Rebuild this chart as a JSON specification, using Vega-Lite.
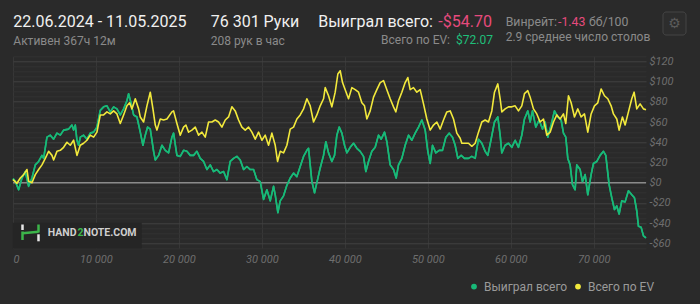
{
"$schema": "https://vega.github.io/schema/vega-lite/v6.json",
"width": 633, "height": 192.1,
"autosize": {"type": "none"},
"padding": {"left": 13, "top": 56.3, "right": 54, "bottom": 55.6},
"background": "#2a2a2a",
"config": {"view": {"stroke": null}, "font": "Roboto"},
"resolve": {"axis": {"y": "independent"}},
"datasets": {
"won": [{"h":0,"v":4},{"h":278,"v":1.3},{"h":679,"v":-7},{"h":1081,"v":4.6},{"h":1483,"v":11},{"h":1884,"v":-3.6},{"h":2286,"v":4.6},{"h":2688,"v":17.6},{"h":3089,"v":21},{"h":3491,"v":27},{"h":3692,"v":24},{"h":4094,"v":45},{"h":4495,"v":47},{"h":4897,"v":43},{"h":5299,"v":49},{"h":5701,"v":47},{"h":6102,"v":52},{"h":6705,"v":53},{"h":7106,"v":57},{"h":7307,"v":52},{"h":7508,"v":57},{"h":7709,"v":42},{"h":7910,"v":37},{"h":8111,"v":45},{"h":8512,"v":47},{"h":8914,"v":43},{"h":9316,"v":49},{"h":9718,"v":50},{"h":10119,"v":55},{"h":10521,"v":71.5},{"h":10923,"v":75},{"h":11324,"v":76},{"h":11726,"v":70},{"h":12128,"v":75},{"h":12529,"v":73},{"h":12931,"v":67},{"h":13333,"v":73},{"h":13735,"v":81},{"h":13935,"v":88},{"h":14217,"v":79},{"h":14538,"v":67},{"h":14940,"v":65},{"h":15341,"v":50},{"h":15663,"v":37},{"h":15944,"v":47},{"h":16225,"v":55},{"h":16546,"v":53},{"h":16948,"v":31},{"h":17149,"v":22.5},{"h":17551,"v":27},{"h":17952,"v":37},{"h":18354,"v":32},{"h":18754,"v":29.5},{"h":19155,"v":45},{"h":19356,"v":49},{"h":19758,"v":27},{"h":20160,"v":26},{"h":20561,"v":32},{"h":20963,"v":31},{"h":21365,"v":27},{"h":21766,"v":27},{"h":22168,"v":31},{"h":22570,"v":24},{"h":22972,"v":21},{"h":23373,"v":13},{"h":23775,"v":17.6},{"h":24177,"v":11},{"h":24578,"v":13},{"h":24980,"v":9.5},{"h":25382,"v":11},{"h":25783,"v":3},{"h":26185,"v":21},{"h":26587,"v":24},{"h":26989,"v":26},{"h":27390,"v":22.5},{"h":27792,"v":13},{"h":28194,"v":16},{"h":28595,"v":13},{"h":28997,"v":13},{"h":29399,"v":3},{"h":29800,"v":1},{"h":30202,"v":-16.6},{"h":30604,"v":-7},{"h":31006,"v":-18},{"h":31407,"v":-3.6},{"h":31608,"v":-12},{"h":31929,"v":-29.7},{"h":32211,"v":-18},{"h":32612,"v":-13},{"h":33014,"v":-2.6},{"h":33416,"v":4.6},{"h":33817,"v":9.5},{"h":34219,"v":6},{"h":34621,"v":16},{"h":35023,"v":26},{"h":35424,"v":32},{"h":35625,"v":34},{"h":36027,"v":1},{"h":36348,"v":-10},{"h":36629,"v":0},{"h":37031,"v":14.6},{"h":37433,"v":27},{"h":37714,"v":40.5},{"h":38034,"v":29.5},{"h":38435,"v":21},{"h":38757,"v":27},{"h":39038,"v":47},{"h":39319,"v":55},{"h":39641,"v":49},{"h":39962,"v":37},{"h":40243,"v":29.5},{"h":40645,"v":35},{"h":41046,"v":39},{"h":41448,"v":34},{"h":41850,"v":31},{"h":42252,"v":26},{"h":42533,"v":11},{"h":42854,"v":21},{"h":43256,"v":31},{"h":43658,"v":35},{"h":44059,"v":47},{"h":44381,"v":43},{"h":44782,"v":50},{"h":45063,"v":40.5},{"h":45465,"v":17.6},{"h":45867,"v":13},{"h":46188,"v":4.6},{"h":46469,"v":17.6},{"h":46871,"v":24},{"h":47273,"v":37},{"h":47675,"v":47},{"h":48076,"v":42},{"h":48478,"v":49},{"h":48880,"v":55},{"h":49281,"v":62},{"h":49683,"v":52},{"h":50004,"v":31},{"h":50286,"v":19},{"h":50567,"v":37},{"h":50968,"v":29.5},{"h":51370,"v":32},{"h":51772,"v":32},{"h":52174,"v":45},{"h":52575,"v":49},{"h":52977,"v":45},{"h":53298,"v":37},{"h":53620,"v":24},{"h":54021,"v":27},{"h":54423,"v":24},{"h":54905,"v":24},{"h":55307,"v":26},{"h":55709,"v":24},{"h":56110,"v":43},{"h":56512,"v":39},{"h":56912,"v":31},{"h":57233,"v":27},{"h":57635,"v":43},{"h":58037,"v":60},{"h":58438,"v":65},{"h":58720,"v":47},{"h":58921,"v":29.5},{"h":59322,"v":37},{"h":59724,"v":39},{"h":60126,"v":35},{"h":60527,"v":42},{"h":60929,"v":35},{"h":61331,"v":47},{"h":61652,"v":63},{"h":62054,"v":71},{"h":62335,"v":60},{"h":62616,"v":71},{"h":63018,"v":55},{"h":63420,"v":62},{"h":63821,"v":53},{"h":64143,"v":60},{"h":64464,"v":45},{"h":64866,"v":57},{"h":65267,"v":71},{"h":65669,"v":65},{"h":66071,"v":62},{"h":66352,"v":49},{"h":66633,"v":45},{"h":66874,"v":24},{"h":67155,"v":17.6},{"h":67437,"v":-2},{"h":67758,"v":-7},{"h":67959,"v":17.6},{"h":68360,"v":13},{"h":68641,"v":1},{"h":68963,"v":8},{"h":69284,"v":-12},{"h":69686,"v":8},{"h":69967,"v":19},{"h":70369,"v":21},{"h":70771,"v":27},{"h":71172,"v":31},{"h":71454,"v":27},{"h":71855,"v":-2},{"h":72177,"v":-15},{"h":72498,"v":-26.5},{"h":72779,"v":-23},{"h":73060,"v":-31},{"h":73382,"v":-18},{"h":73783,"v":-19},{"h":74185,"v":-8},{"h":74587,"v":-12},{"h":74908,"v":-15},{"h":75189,"v":-28},{"h":75390,"v":-43},{"h":75712,"v":-44},{"h":75993,"v":-52.6},{"h":76301,"v":-54.7}],
"ev": [{"h":0,"v":3},{"h":478,"v":-0.6},{"h":880,"v":4.6},{"h":1282,"v":8},{"h":1684,"v":13},{"h":1884,"v":1.3},{"h":2286,"v":0},{"h":2688,"v":8},{"h":3089,"v":13},{"h":3491,"v":17.6},{"h":3893,"v":24},{"h":4295,"v":31},{"h":4696,"v":27},{"h":4897,"v":22.5},{"h":5299,"v":31},{"h":5701,"v":32},{"h":6102,"v":35},{"h":6504,"v":40},{"h":6906,"v":37},{"h":7307,"v":42},{"h":7709,"v":27},{"h":8111,"v":37},{"h":8512,"v":39},{"h":8914,"v":42},{"h":9316,"v":47},{"h":9718,"v":45},{"h":10119,"v":50},{"h":10521,"v":67},{"h":10923,"v":67},{"h":11324,"v":70},{"h":11726,"v":68},{"h":12128,"v":71},{"h":12529,"v":68},{"h":12931,"v":58.5},{"h":13333,"v":67},{"h":13735,"v":76},{"h":14056,"v":79},{"h":14337,"v":73},{"h":14739,"v":83},{"h":15140,"v":73},{"h":15341,"v":65},{"h":15743,"v":60},{"h":16145,"v":76},{"h":16546,"v":89.5},{"h":16868,"v":73},{"h":17149,"v":57},{"h":17350,"v":52},{"h":17752,"v":63},{"h":18153,"v":62},{"h":18555,"v":63},{"h":19155,"v":70},{"h":19356,"v":71},{"h":19758,"v":58.5},{"h":20160,"v":47},{"h":20561,"v":55},{"h":20843,"v":57},{"h":21164,"v":50},{"h":21566,"v":52},{"h":21967,"v":55},{"h":22369,"v":47},{"h":22771,"v":50},{"h":23172,"v":45},{"h":23574,"v":60},{"h":23976,"v":60},{"h":24378,"v":62},{"h":24779,"v":60},{"h":25181,"v":55},{"h":25583,"v":62},{"h":25984,"v":65},{"h":26386,"v":75},{"h":26788,"v":71},{"h":27189,"v":62},{"h":27591,"v":55},{"h":27993,"v":52},{"h":28395,"v":55},{"h":28796,"v":50},{"h":29198,"v":43},{"h":29600,"v":50},{"h":30001,"v":42},{"h":30403,"v":47},{"h":30805,"v":37},{"h":31206,"v":49},{"h":31608,"v":37},{"h":31889,"v":21},{"h":32211,"v":31},{"h":32612,"v":29.5},{"h":33014,"v":37},{"h":33416,"v":53},{"h":33817,"v":55},{"h":34219,"v":63},{"h":34621,"v":67},{"h":35023,"v":73},{"h":35424,"v":83},{"h":35826,"v":76},{"h":36228,"v":60},{"h":36629,"v":67},{"h":37031,"v":76},{"h":37433,"v":83},{"h":37634,"v":94},{"h":38034,"v":86},{"h":38435,"v":75},{"h":38837,"v":89.5},{"h":39158,"v":107.5},{"h":39440,"v":110.7},{"h":39721,"v":99},{"h":40042,"v":92},{"h":40444,"v":83},{"h":40846,"v":94},{"h":41247,"v":92},{"h":41649,"v":89.5},{"h":42051,"v":79},{"h":42372,"v":76},{"h":42653,"v":63},{"h":43055,"v":71},{"h":43457,"v":84.6},{"h":43858,"v":92},{"h":44260,"v":99},{"h":44662,"v":101},{"h":45063,"v":92},{"h":45465,"v":83},{"h":45867,"v":75},{"h":46148,"v":70},{"h":46469,"v":81},{"h":46871,"v":89.5},{"h":47273,"v":99},{"h":47594,"v":104},{"h":47875,"v":92},{"h":48277,"v":94},{"h":48679,"v":89.5},{"h":49080,"v":92},{"h":49482,"v":78},{"h":49884,"v":63},{"h":50286,"v":52},{"h":50687,"v":57},{"h":51089,"v":60},{"h":51491,"v":53},{"h":51892,"v":62},{"h":52294,"v":70},{"h":52696,"v":71},{"h":53097,"v":63},{"h":53499,"v":49},{"h":53901,"v":44},{"h":54102,"v":39},{"h":54503,"v":39},{"h":54905,"v":39},{"h":55307,"v":36},{"h":55709,"v":39},{"h":56110,"v":50},{"h":56512,"v":60},{"h":56914,"v":62},{"h":57314,"v":60},{"h":57715,"v":71},{"h":58037,"v":89.5},{"h":58438,"v":97.7},{"h":58720,"v":83},{"h":58921,"v":70},{"h":59322,"v":73},{"h":59724,"v":75},{"h":60126,"v":75},{"h":60527,"v":76},{"h":60929,"v":71},{"h":61331,"v":76},{"h":61652,"v":88},{"h":62054,"v":91},{"h":62335,"v":84.6},{"h":62737,"v":73},{"h":63138,"v":68},{"h":63540,"v":60},{"h":63942,"v":63},{"h":64343,"v":47},{"h":64745,"v":50},{"h":65147,"v":60},{"h":65549,"v":67},{"h":65950,"v":63},{"h":66352,"v":68},{"h":66633,"v":58.5},{"h":66954,"v":86},{"h":67276,"v":79},{"h":67678,"v":65},{"h":68079,"v":73},{"h":68481,"v":65},{"h":68883,"v":68},{"h":69284,"v":50},{"h":69686,"v":68},{"h":70088,"v":76},{"h":70489,"v":79},{"h":70891,"v":92.7},{"h":71293,"v":86},{"h":71695,"v":83},{"h":72096,"v":76},{"h":72377,"v":68},{"h":72779,"v":63},{"h":73060,"v":52},{"h":73462,"v":65},{"h":73783,"v":57},{"h":74185,"v":70},{"h":74587,"v":83},{"h":74868,"v":89.5},{"h":75189,"v":73},{"h":75591,"v":78},{"h":75993,"v":73},{"h":76301,"v":72.07}]
},
"data": {"values": [{}]},
"layer": [
{"data": {"name": "ev"}, "mark": {"type": "line", "strokeWidth": 1.6, "opacity": 0},
 "encoding": {"x": {"field": "h", "type": "quantitative"},
  "y": {"field": "v", "type": "quantitative",
   "axis": {"orient": "left", "values": [-65,-55,-50,-45,-35,-30,-25,-15,-10,-5,5,10,15,25,30,35,45,50,55,65,70,75,85,90,95,105,110,115,125],
    "labels": false, "ticks": false, "domain": false, "title": null, "grid": true, "gridColor": "#323232"}}}},
{"data": {"name": "won"}, "mark": {"type": "line", "strokeWidth": 1.6, "strokeJoin": "round"},
 "encoding": {
  "x": {"field": "h", "type": "quantitative", "scale": {"domain": [0, 76301], "nice": false, "zero": false},
    "axis": {"values": [0,10000,20000,30000,40000,50000,60000,70000], "labelExpr": "replace(format(datum.value, ','), ',', ' ')",
      "grid": true, "gridColor": "#373737", "ticks": false, "domain": false, "title": null,
      "labelFont": "Roboto", "labelFontStyle": "italic", "labelFontSize": 11, "labelColor": "#6e6e6e", "labelPadding": 5, "labelBaseline": "top"}},
  "y": {"field": "v", "type": "quantitative",
   "scale": {"domain": [-65, 125], "nice": false, "zero": false},
   "axis": {"orient": "right", "values": [-60,-40,-20,0,20,40,60,80,100,120],
     "labelExpr": "datum.value < 0 ? '-$' + abs(datum.value) : '$' + datum.value",
     "grid": true, "gridColor": "#424242",
     "ticks": false, "domain": false, "title": null,
     "labelFont": "Roboto", "labelFontStyle": "italic", "labelFontSize": 11, "labelColor": "#6e6e6e",
     "labelPadding": 3, "labelAlign": "left", "labelBaseline": "middle"}},
  "color": {"datum": "Выиграл всего", "scale": {"domain": ["Выиграл всего", "Всего по EV"], "range": ["#18b978", "#f2e93c"]},
    "legend": {"orient": "none", "legendX": 455, "legendY": 224, "direction": "horizontal", "title": null,
      "symbolType": "circle", "symbolSize": 8, "symbolStrokeWidth": 3, "labelFont": "Roboto", "labelFontSize": 12,
      "labelColor": "#9a9a9a", "labelOffset": 4, "columnPadding": 2, "padding": 0}}}},
{"mark": {"type": "rule", "color": "#8a8a8a", "strokeWidth": 1.5},
 "encoding": {"y": {"datum": 0, "type": "quantitative", "axis": null}}},
{"data": {"name": "won"}, "mark": {"type": "line", "strokeWidth": 1.6, "strokeJoin": "round", "color": "#18b978"},
 "encoding": {"x": {"field": "h", "type": "quantitative"}, "y": {"field": "v", "type": "quantitative", "axis": null}}},
{"data": {"name": "ev"}, "mark": {"type": "line", "strokeWidth": 1.6, "strokeJoin": "round"},
 "encoding": {"x": {"field": "h", "type": "quantitative"}, "y": {"field": "v", "type": "quantitative", "axis": null}, "color": {"datum": "Всего по EV"}}},
{"mark": {"type": "rect", "fill": "#252525"}, "encoding": {"x": {"value": -0.3}, "x2": {"value": 128.7}, "y": {"value": 166.4}, "y2": {"value": 192.1}}},
{"mark": {"type": "rule", "stroke": "#e6e6e6", "strokeWidth": 2.5}, "encoding": {"x": {"value": 9.5}, "x2": {"value": 9.5}, "y": {"value": 168.2}, "y2": {"value": 173.7}}},
{"mark": {"type": "rule", "stroke": "#3cb54a", "strokeWidth": 2.5}, "encoding": {"x": {"value": 9.5}, "x2": {"value": 9.5}, "y": {"value": 175.2}, "y2": {"value": 183.7}}},
{"mark": {"type": "rule", "stroke": "#3cb54a", "strokeWidth": 2.5}, "encoding": {"x": {"value": 9.5}, "x2": {"value": 25.5}, "y": {"value": 177}, "y2": {"value": 175.5}}},
{"mark": {"type": "rule", "stroke": "#3cb54a", "strokeWidth": 2.5}, "encoding": {"x": {"value": 25.5}, "x2": {"value": 25.5}, "y": {"value": 168.2}, "y2": {"value": 176.2}}},
{"mark": {"type": "rule", "stroke": "#e6e6e6", "strokeWidth": 2.5}, "encoding": {"x": {"value": 25.5}, "x2": {"value": 25.5}, "y": {"value": 178}, "y2": {"value": 185}}},
{"mark": {"type": "text", "text": "HAND", "x": 34.7, "y": 179.7, "align": "left", "baseline": "alphabetic", "font": "Roboto", "fontWeight": "bold", "fontSize": 10.5, "color": "#cfcfcf"}, "encoding": {}},
{"mark": {"type": "text", "text": "2", "x": 64.5, "y": 179.7, "align": "left", "baseline": "alphabetic", "font": "Roboto", "fontWeight": "bold", "fontSize": 10.5, "color": "#3cb54a"}, "encoding": {}},
{"mark": {"type": "text", "text": "NOTE.COM", "x": 70.5, "y": 179.7, "align": "left", "baseline": "alphabetic", "font": "Roboto", "fontWeight": "bold", "fontSize": 10.5, "color": "#cfcfcf"}, "encoding": {}},
{"mark": {"type": "text", "text": "22.06.2024 - 11.05.2025", "x": 0.3, "y": -29.6, "align": "left", "baseline": "alphabetic", "font": "Roboto", "fontSize": 16, "color": "#f0f0f0"}, "encoding": {}},
{"mark": {"type": "text", "text": "Активен 367ч 12м", "x": 0.3, "y": -11.3, "align": "left", "baseline": "alphabetic", "font": "Roboto", "fontSize": 12, "color": "#8a8a8a"}, "encoding": {}},
{"mark": {"type": "text", "text": "76 301 Руки", "x": 197.7, "y": -29.6, "align": "left", "baseline": "alphabetic", "font": "Roboto", "fontSize": 16, "color": "#f0f0f0"}, "encoding": {}},
{"mark": {"type": "text", "text": "208 рук в час", "x": 197.7, "y": -11.3, "align": "left", "baseline": "alphabetic", "font": "Roboto", "fontSize": 12, "color": "#8a8a8a"}, "encoding": {}},
{"mark": {"type": "text", "text": "Выиграл всего:", "x": 420, "y": -29.6, "align": "right", "baseline": "alphabetic", "font": "Roboto", "fontSize": 16, "color": "#f0f0f0"}, "encoding": {}},
{"mark": {"type": "text", "text": "-$54.70", "x": 425.3, "y": -29.6, "align": "left", "baseline": "alphabetic", "font": "Roboto", "fontSize": 16, "color": "#e64a7d"}, "encoding": {}},
{"mark": {"type": "text", "text": "Всего по EV:", "x": 437, "y": -12, "align": "right", "baseline": "alphabetic", "font": "Roboto", "fontSize": 12, "color": "#8a8a8a"}, "encoding": {}},
{"mark": {"type": "text", "text": "$72.07", "x": 443, "y": -12, "align": "left", "baseline": "alphabetic", "font": "Roboto", "fontSize": 12, "color": "#1fbf7a"}, "encoding": {}},
{"mark": {"type": "text", "text": "Винрейт:", "x": 492.7, "y": -30.3, "align": "left", "baseline": "alphabetic", "font": "Roboto", "fontSize": 12.3, "color": "#8a8a8a"}, "encoding": {}},
{"mark": {"type": "text", "text": "-1.43", "x": 545, "y": -30.3, "align": "left", "baseline": "alphabetic", "font": "Roboto", "fontSize": 12.3, "color": "#e64a7d"}, "encoding": {}},
{"mark": {"type": "text", "text": "бб/100", "x": 576, "y": -30.3, "align": "left", "baseline": "alphabetic", "font": "Roboto", "fontSize": 12.3, "color": "#8a8a8a"}, "encoding": {}},
{"mark": {"type": "text", "text": "2.9 среднее число столов", "x": 492.7, "y": -15.8, "align": "left", "baseline": "alphabetic", "font": "Roboto", "fontSize": 12, "color": "#8a8a8a"}, "encoding": {}},
{"mark": {"type": "rect", "fill": "#2d2d2d", "stroke": "#444444", "strokeWidth": 1, "cornerRadius": 3}, "encoding": {"x": {"value": 650}, "x2": {"value": 673}, "y": {"value": -44.3}, "y2": {"value": -21.3}}},
{"mark": {"type": "text", "text": "⚙", "x": 661.5, "y": -32.8, "align": "center", "baseline": "middle", "font": "DejaVu Sans", "fontSize": 14, "color": "#5a5a5a"}, "encoding": {}}
]
}
